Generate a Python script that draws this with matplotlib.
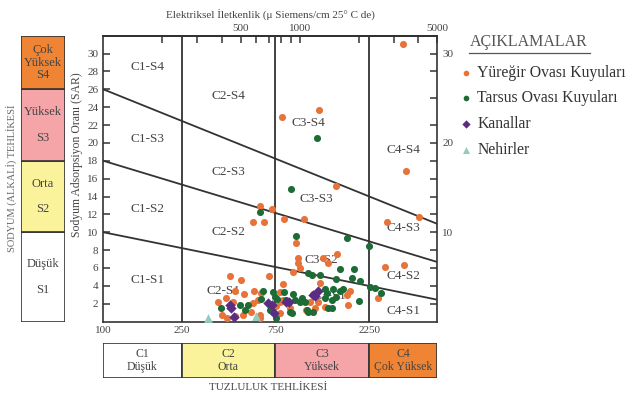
import matplotlib.pyplot as plt
from matplotlib.patches import Rectangle
from matplotlib.lines import Line2D

plt.rcParams['font.family'] = ['Liberation Serif', 'DejaVu Serif']

# Yüreğir Ovası kuyuları (EC, SAR)
yur_ec = [3340, 1250, 810, 3460, 1530, 630, 720, 575, 660, 830, 1050, 2760, 4030,
          1540, 2700, 3400, 955, 980, 975, 1310, 1390, 925, 440, 500, 700, 820,
          1265, 2500, 1790, 1760, 1730, 1170, 1120, 1240, 1345, 1190, 1080, 890,
          790, 760, 795, 820, 790, 585, 635, 520, 615, 580, 385, 420, 455, 400,
          425, 515, 565, 627, 630, 470, 470, 1000]
yur_sar = [31.1, 23.7, 22.9, 16.9, 15.2, 12.9, 12.6, 11.1, 11.1, 11.5, 11.5, 11.2, 11.7,
           7.6, 6.1, 6.3, 8.8, 7.1, 6.6, 7.1, 6.6, 5.5, 5.1, 4.6, 5.1, 4.2,
           4.3, 2.6, 3.4, 1.9, 3.0, 3.1, 2.2, 2.2, 1.6, 1.5, 1.3, 1.5,
           0.95, 1.7, 3.3, 2.4, 2.2, 3.4, 3.2, 3.1, 2.4, 2.1, 2.2, 2.6, 2.2, 0.75,
           0.4, 0.75, 1.1, 0.75, 0.4, 3.4, 0.65, 6.0]

# Tarsus Ovası kuyuları
tar_ec = [1220, 900, 630, 955, 1730, 2245, 1610, 1880, 1150, 1265, 1520, 1840, 2035,
          2265, 2420, 2600, 2010, 1475, 1655, 1530, 1370, 1450, 1450, 1060, 1090,
          1020, 730, 835, 925, 1000, 1345, 1600, 1345, 1170, 1390, 910, 730, 635,
          496, 545, 767, 855, 395, 525, 705, 760, 890, 945, 1105, 1105, 650, 745]
tar_sar = [20.5, 14.8, 12.3, 9.6, 9.4, 8.5, 5.9, 5.9, 5.2, 5.2, 4.8, 4.9, 4.5,
           3.9, 3.75, 3.15, 2.3, 3.6, 3.7, 2.8, 3.2, 2.4, 1.5, 2.2, 1.3,
           2.6, 3.3, 3.3, 3.1, 2.2, 3.6, 3.4, 2.6, 1.1, 1.5, 0.95, 1.1, 2.5,
           1.9, 1.9, 2.5, 2.4, 1.5, 1.3, 1.3, 0.4, 1.1, 2.4, 1.1, 5.4, 3.4, 2.8]

# Kanallar
kan_ec = [445, 460, 690, 720, 735, 885, 850, 1170, 1240, 1190, 440]
kan_sar = [1.5, 0.55, 2.1, 1.9, 0.95, 2.2, 2.2, 3.0, 3.4, 2.9, 1.9]

# Nehirler
neh_ec = [340, 600]
neh_sar = [0.4, 0.65]

# sodium hazard boundaries: SAR at EC = 100 and EC = 5000
ec_limits = [100, 5000]
sar_at_100 = [10, 18, 26]
sar_at_5000 = [2.45, 6.67, 10.94]

# salinity class edges
c_edges = [100, 250, 750, 2250, 5000]
c_names = ['C1\nDüşük', 'C2\nOrta', 'C3\nYüksek', 'C4\nÇok Yüksek']
s_edges = [0, 10, 18, 26, 32]
s_names = ['Düşük\n\nS1', 'Orta\n\nS2', 'Yüksek\n\nS3', 'Çok\nYüksek\nS4']
class_colors = ['white', '#fbf29c', '#f5a5a8', '#ee8434']

top_ticks = [500, 1000, 5000]
top_minor = [200, 300, 400, 600, 700, 800, 900, 2000, 3000, 4000]
right_ticks = [2, 4, 6, 8, 10, 12, 14, 16, 18, 20, 22, 25, 28, 30]

zone_labels = {
    'C1-S4': (167, 28.5), 'C1-S3': (167, 20.4), 'C1-S2': (167, 12.6), 'C1-S1': (167, 4.6),
    'C2-S4': (431, 25.2), 'C2-S3': (431, 16.8), 'C2-S2': (431, 10.0), 'C2-S1': (410, 3.4),
    'C3-S4': (1100, 22.2), 'C3-S3': (1210, 13.7), 'C3-S2': (1290, 6.9), 'C3-S1': (1420, 2.9),
    'C4-S4': (3380, 19.2), 'C4-S3': (3380, 10.5), 'C4-S2': (3380, 5.1), 'C4-S1': (3380, 1.2),
}

line_c = '#333333'
text_c = '#444444'

fig = plt.figure(figsize=(6.3, 3.97), dpi=100)
ax = fig.add_axes([0.164, 0.19, 0.530, 0.72])
ax.set_xscale('log')
ax.set_xlim(100, 5000)
ax.set_ylim(0, 32)

for x in c_edges[1:-1]:
    ax.axvline(x, color=line_c, lw=1.3, zorder=1)
for y0, y1 in zip(sar_at_100, sar_at_5000):
    ax.plot(ec_limits, [y0, y1], color=line_c, lw=1.3, zorder=1)

for name, (x, y) in zone_labels.items():
    ax.text(x, y, name, ha='center', va='center', fontsize=9.5, color=text_c, zorder=2)

ax.scatter(yur_ec, yur_sar, s=26, color='#e8733a', lw=0, zorder=3, label='Yüreğir Ovası Kuyuları')
ax.scatter(tar_ec, tar_sar, s=26, color='#1d6b35', lw=0, zorder=3, label='Tarsus Ovası Kuyuları')
ax.scatter(kan_ec, kan_sar, s=28, marker='D', color='#5a2d82', lw=0, zorder=4, label='Kanallar')
ax.scatter(neh_ec, neh_sar, s=40, marker='^', color='#94cbbe', lw=0, zorder=4, label='Nehirler')

for sp in ax.spines.values():
    sp.set_linewidth(1.2)
    sp.set_color(line_c)

ax.set_xticks(c_edges[:-1])
ax.set_xticklabels([str(v) for v in c_edges[:-1]])
ax.minorticks_off()
ax.tick_params(axis='x', length=0, pad=3, labelsize=8, colors=text_c)
ax.set_yticks(list(range(2, 31, 2)))
ax.tick_params(axis='y', direction='in', length=5, width=1.1, labelsize=8, colors=text_c, color=line_c)

axr = ax.twinx()
axr.set_ylim(0, 32)
axr.set_yticks(right_ticks)
axr.set_yticklabels([str(v) if v % 10 == 0 else '' for v in right_ticks])
axr.tick_params(axis='y', direction='in', length=5, width=1.1, labelsize=8, colors=text_c, color=line_c)
for sp in axr.spines.values():
    sp.set_visible(False)

axt = ax.secondary_xaxis('top')
axt.set_xticks(top_ticks + top_minor)
axt.set_xticklabels([str(v) for v in top_ticks] + [''] * len(top_minor))
axt.minorticks_off()
axt.tick_params(axis='x', direction='in', length=5, width=1.1, pad=2, labelsize=8, colors=text_c, color=line_c)
axt.spines['top'].set_linewidth(1.2)
axt.set_xlabel('Elektriksel İletkenlik (μ Siemens/cm 25° C de)', fontsize=8, color=text_c, labelpad=4)

# sodium hazard column
axs = fig.add_axes([0.033, 0.19, 0.070, 0.72])
axs.set_xlim(0, 1)
axs.set_ylim(0, 32)
for i in range(4):
    axs.add_patch(Rectangle((0, s_edges[i]), 1, s_edges[i + 1] - s_edges[i],
                            facecolor=class_colors[i], edgecolor=line_c, lw=1.2))
    axs.text(0.5, (s_edges[i] + s_edges[i + 1]) / 2, s_names[i], ha='center', va='center',
             fontsize=9, color=text_c, linespacing=1.1)
axs.axis('off')

# salinity hazard row
axc = fig.add_axes([0.164, 0.048, 0.530, 0.088])
axc.set_xscale('log')
axc.set_xlim(100, 5000)
axc.set_ylim(0, 1)
for i in range(4):
    axc.add_patch(Rectangle((c_edges[i], 0), c_edges[i + 1] - c_edges[i], 1,
                            facecolor=class_colors[i], edgecolor=line_c, lw=1.2))
    axc.text((c_edges[i] * c_edges[i + 1]) ** 0.5, 0.5, c_names[i], ha='center', va='center',
             fontsize=8.5, color=text_c, linespacing=1.1)
axc.axis('off')

fig.text(0.426, 0.025, 'TUZLULUK TEHLİKESİ', ha='center', va='center', fontsize=8, color=text_c)
fig.text(0.019, 0.55, 'SODYUM (ALKALİ) TEHLİKESİ', rotation=90, ha='center', va='center',
         fontsize=7.5, color='#666666')
fig.text(0.122, 0.61, 'Sodyum Adsorpsiyon Oranı (SAR)', rotation=90, ha='center', va='center',
         fontsize=8.5, color=text_c)

# legend
fig.text(0.745, 0.893, 'AÇIKLAMALAR', fontsize=11.5, color='#555555', va='center')
fig.add_artist(Line2D([0.745, 0.937], [0.866, 0.866], color='#555555', lw=0.9))
leg = ax.legend(loc='upper left', bbox_to_anchor=(0.728, 0.837), bbox_transform=fig.transFigure,
                frameon=False, fontsize=11.3, handletextpad=0.2, labelspacing=0.62,
                handlelength=1.0, borderaxespad=0, borderpad=0, markerscale=0.8)
for t in leg.get_texts():
    t.set_color('#333333')

fig.savefig('out.png', dpi=100)
